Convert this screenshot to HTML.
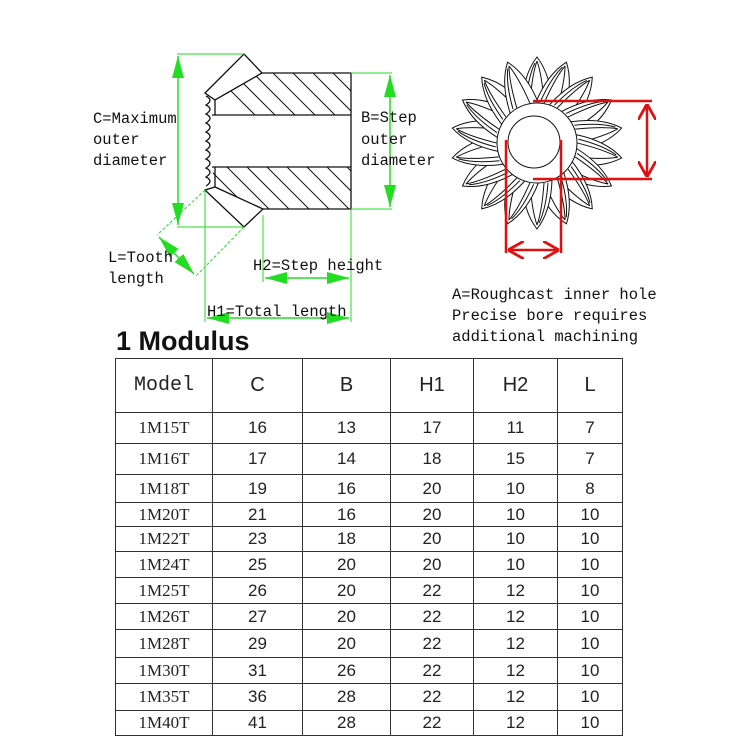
<!DOCTYPE html>
<html><head><style>
body{margin:0;background:#fff;width:750px;height:750px;overflow:hidden;position:relative}
.t{position:absolute;font-family:"Liberation Mono",monospace;font-size:15.5px;color:#111;white-space:nowrap}
table{position:absolute;left:115px;top:358px;border-collapse:collapse}
td{border:1.5px solid #333;text-align:center;padding:0;font-family:"Liberation Sans",sans-serif;font-size:17px;color:#222}
td.m{font-family:"Liberation Serif",serif;font-size:17px}
</style></head><body>
<svg width="750" height="350" style="position:absolute;left:0;top:0">
<defs>
<marker id="g" viewBox="0 0 10 10" refX="10" refY="5" markerWidth="22" markerHeight="12" orient="auto-start-reverse" markerUnits="userSpaceOnUse" preserveAspectRatio="none"><path d="M0,0L10,5L0,10z" fill="#22dd22"/></marker>
<marker id="r" viewBox="0 0 10 10" refX="10" refY="5" markerWidth="16" markerHeight="18" orient="auto-start-reverse" markerUnits="userSpaceOnUse" preserveAspectRatio="none"><path d="M0,0L10,5L0,10" fill="none" stroke="#e01010" stroke-width="1.6"/></marker>
<clipPath id="hc"><polygon points="215,100 262,73 351,73 351,115 212,115"/><polygon points="212,167 351,167 351,209 263,209 215,187"/></clipPath>
</defs>
<g stroke="#111" fill="none" stroke-width="1.3">
<polygon points="205,93 244,54 262,73 215,100"/>
<polygon points="205,190 215,187 263,209 244,227"/>
<path d="M262,73H351V209H263"/>
<path d="M212,115H351M212,167H351"/>
<path d="M215,100V115M215,167V187"/>
<path d="M206,96 q8,4 0,9 q8,4 0,9 q8,4 0,9 q8,4 0,9 q8,4 0,9 q8,4 0,9 q8,4 0,9 q8,4 0,9 q8,4 0,9 q8,4 0,9"/>
<g clip-path="url(#hc)" stroke-width="1">
<path d="M220,60l60,60M240,60l60,60M260,60l60,60M280,60l60,60M300,60l60,60M320,60l60,60M340,60l60,60M200,60l60,60
M200,160l60,60M220,160l60,60M240,160l60,60M260,160l60,60M280,160l60,60M300,160l60,60M320,160l60,60M340,160l60,60"/>
</g>
</g>
<g stroke="#22dd22" stroke-width="1" fill="none">
<path d="M177,54H244M177,227H244M351,73H392M351,209H392M205,190V322M351,209V322M263,215V282"/>
<path d="M205,190L157,235M244,227L196,276" stroke-dasharray="3,2"/>
<g stroke-width="1.5" marker-start="url(#g)" marker-end="url(#g)">
<path d="M178,56V225"/><path d="M390,75V207"/><path d="M207,318H349"/><path d="M265,278H349"/><path d="M159,237L194,274"/>
</g>
</g>
<g transform="translate(537,143)" stroke="#111" fill="#fff" stroke-width="1">
<g id="teeth">
<path d="M-15,-37 Q-14,-68 0,-86 Q14,-68 15,-37 Z"/><path d="M-7,-40 Q-5,-68 0,-82 M7,-40 Q5,-68 0,-82 M-11,-40 Q-9,-66 -2,-80"/>
</g>
<use href="#teeth" transform="rotate(20)"/><use href="#teeth" transform="rotate(40)"/><use href="#teeth" transform="rotate(60)"/>
<use href="#teeth" transform="rotate(80)"/><use href="#teeth" transform="rotate(100)"/><use href="#teeth" transform="rotate(120)"/>
<use href="#teeth" transform="rotate(140)"/><use href="#teeth" transform="rotate(160)"/><use href="#teeth" transform="rotate(180)"/>
<use href="#teeth" transform="rotate(200)"/><use href="#teeth" transform="rotate(220)"/><use href="#teeth" transform="rotate(240)"/>
<use href="#teeth" transform="rotate(260)"/><use href="#teeth" transform="rotate(280)"/><use href="#teeth" transform="rotate(300)"/>
<use href="#teeth" transform="rotate(320)"/><use href="#teeth" transform="rotate(340)"/>
<circle r="40"/>
<circle cx="-3" cy="-1" r="26"/>
</g>
<g stroke="#e01010" stroke-width="2.5" fill="none">
<path d="M533,101H652M533,179H652M506,140V253M561,140V253"/>
<g marker-start="url(#r)" marker-end="url(#r)"><path d="M647,104V177"/><path d="M508,250H559"/></g>
</g>
</svg>
<div class="t" style="left:93px;top:110px">C=Maximum</div>
<div class="t" style="left:93px;top:131px">outer</div>
<div class="t" style="left:93px;top:152px">diameter</div>
<div class="t" style="left:361px;top:109px">B=Step</div>
<div class="t" style="left:361px;top:131px">outer</div>
<div class="t" style="left:361px;top:152px">diameter</div>
<div class="t" style="left:108px;top:249px">L=Tooth</div>
<div class="t" style="left:108px;top:270px">length</div>
<div class="t" style="left:253px;top:257px">H2=Step height</div>
<div class="t" style="left:207px;top:303px">H1=Total length</div>
<div class="t" style="left:452px;top:286px">A=Roughcast inner hole</div>
<div class="t" style="left:452px;top:307px">Precise bore requires</div>
<div class="t" style="left:452px;top:328px">additional machining</div>
<div style="position:absolute;left:116px;top:326px;font-family:'Liberation Sans',sans-serif;font-weight:bold;font-size:27px;color:#111">1 Modulus</div>
<table>
<colgroup><col style="width:97px"><col style="width:90px"><col style="width:88px"><col style="width:83px"><col style="width:84px"><col style="width:65px"></colgroup>
<tr style="height:54px"><td class="m" style="font-family:'Liberation Mono',monospace;font-size:20px">Model</td><td style="font-size:20px">C</td><td style="font-size:20px">B</td><td style="font-size:20px">H1</td><td style="font-size:20px">H2</td><td style="font-size:20px">L</td></tr>
<tr style="height:31px"><td class="m">1M15T</td><td>16</td><td>13</td><td>17</td><td>11</td><td>7</td></tr>
<tr style="height:31px"><td class="m">1M16T</td><td>17</td><td>14</td><td>18</td><td>15</td><td>7</td></tr>
<tr style="height:28px"><td class="m">1M18T</td><td>19</td><td>16</td><td>20</td><td>10</td><td>8</td></tr>
<tr style="height:24px"><td class="m">1M20T</td><td>21</td><td>16</td><td>20</td><td>10</td><td>10</td></tr>
<tr style="height:25px"><td class="m">1M22T</td><td>23</td><td>18</td><td>20</td><td>10</td><td>10</td></tr>
<tr style="height:26px"><td class="m">1M24T</td><td>25</td><td>20</td><td>20</td><td>10</td><td>10</td></tr>
<tr style="height:26px"><td class="m">1M25T</td><td>26</td><td>20</td><td>22</td><td>12</td><td>10</td></tr>
<tr style="height:26px"><td class="m">1M26T</td><td>27</td><td>20</td><td>22</td><td>12</td><td>10</td></tr>
<tr style="height:28px"><td class="m">1M28T</td><td>29</td><td>20</td><td>22</td><td>12</td><td>10</td></tr>
<tr style="height:26px"><td class="m">1M30T</td><td>31</td><td>26</td><td>22</td><td>12</td><td>10</td></tr>
<tr style="height:27px"><td class="m">1M35T</td><td>36</td><td>28</td><td>22</td><td>12</td><td>10</td></tr>
<tr style="height:25px"><td class="m">1M40T</td><td>41</td><td>28</td><td>22</td><td>12</td><td>10</td></tr>
</table>
</body></html>
